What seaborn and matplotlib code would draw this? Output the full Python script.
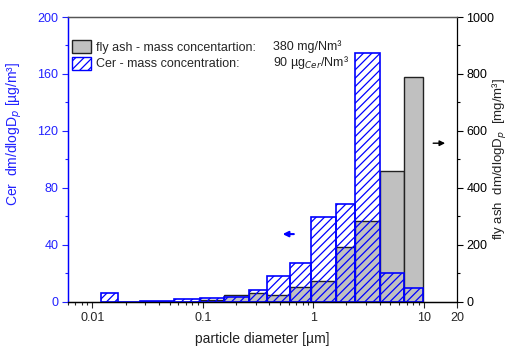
import numpy as np
import pandas as pd
import matplotlib
matplotlib.use("Agg")
import matplotlib.pyplot as plt
import seaborn as sns
from matplotlib.patches import Patch
from matplotlib.ticker import MultipleLocator, LogLocator, FixedLocator, NullFormatter

# impactor stage boundaries [um]
bin_edges = [0.012, 0.0169, 0.0272, 0.0551, 0.0933, 0.156, 0.262, 0.383,
             0.615, 0.946, 1.60, 2.39, 4.00, 6.68, 9.84]
# Cer dm/dlogDp [ug/m3]
cer_values = [6.5, 0.0, 0.4, 2.1, 2.8, 3.3, 8.4, 18.2, 27.1, 59.4, 68.6, 175.0, 20.1, 10.0]
# fly ash dm/dlogDp [mg/m3]
ash_values = [0.0, 0.0, 0.0, 1.0, 7.0, 25.0, 31.0, 24.0, 52.0, 73.0, 192.0, 285.0, 460.0, 788.0]

x_ticks = [0.01, 0.1, 1, 10, 20]
x_tick_labels = ["0.01", "0.1", "1", "10", "20"]

BLUE = "#0000ff"
LBLUE = "#2222ff"

sns.set_theme(style="ticks")
plt.rcParams['font.family'] = ['Liberation Sans', 'DejaVu Sans']
plt.rcParams['hatch.linewidth'] = 0.9

centers = np.sqrt(np.array(bin_edges[:-1]) * np.array(bin_edges[1:]))
log_edges = [float(v) for v in np.log10(bin_edges)]
df = pd.DataFrame({"d": centers, "cer": cer_values, "ash": ash_values})

fig = plt.figure(figsize=(5.11, 3.47), dpi=100)
ax = fig.add_axes([0.133, 0.130, 0.761, 0.821])
ax2 = ax.twinx()

# fly ash bars behind (right axis), Cer hatched bars on top (left axis)
ax2.set_zorder(ax.get_zorder() - 1)
ax.patch.set_visible(False)
ax2.patch.set_visible(True)
ax2.patch.set_facecolor("white")

sns.histplot(data=df, x="d", weights="ash", bins=log_edges, log_scale=True,
             stat="count", element="bars", fill=True, color="#c0c0c0", alpha=1,
             edgecolor="#222222", linewidth=1.0, ax=ax2)
sns.histplot(data=df, x="d", weights="cer", bins=log_edges, log_scale=True,
             stat="count", element="bars", fill=False, color=BLUE,
             hatch="////", linewidth=1.2, ax=ax)

ax.set_xscale("log")
ax.set_xlim(0.006, 20)
ax.set_ylim(0, 200)
ax2.set_ylim(0, 1000)

ax.xaxis.set_major_locator(FixedLocator(x_ticks))
ax.set_xticklabels(x_tick_labels)
ax.xaxis.set_minor_locator(LogLocator(base=10, subs=np.arange(2, 10)))
ax.xaxis.set_minor_formatter(NullFormatter())

ax.yaxis.set_major_locator(MultipleLocator(40))
ax.yaxis.set_minor_locator(MultipleLocator(20))
ax2.yaxis.set_major_locator(MultipleLocator(200))
ax2.yaxis.set_minor_locator(MultipleLocator(100))

for a in (ax, ax2):
    a.tick_params(which="major", direction="out", length=4, width=0.8, labelsize=9, pad=3)
    a.tick_params(which="minor", direction="out", length=2, width=0.8)
    a.set_xlabel("")

ax.tick_params(axis="y", which="both", colors=LBLUE, labelcolor=LBLUE)
ax2.tick_params(axis="y", which="both", colors="black")

ax.spines["left"].set_color(BLUE)
ax2.spines["left"].set_color(BLUE)
ax2.spines["right"].set_color("black")
ax.spines["right"].set_visible(False)
ax.spines["top"].set_color("#555555")
ax2.spines["top"].set_color("#555555")
for a in (ax, ax2):
    a.spines["bottom"].set_color("black")
    for s in a.spines.values():
        s.set_linewidth(0.9)

ax.set_xlabel("particle diameter [µm]", fontsize=10, color="#222222", labelpad=6)
ax.set_ylabel("Cer  dm/dlogD$_p$ [µg/m³]", fontsize=10, color=LBLUE)
ax.yaxis.set_label_coords(-0.112, 0.59)
ax2.set_ylabel("fly ash  dm/dlogD$_p$  [mg/m³]", fontsize=9.5, color="#222222")
ax2.yaxis.set_label_coords(1.088, 0.5)

handles = [Patch(facecolor="#c0c0c0", edgecolor="#222222", linewidth=1.0),
           Patch(facecolor="white", edgecolor=BLUE, hatch="////", linewidth=1.0)]
labels = ["fly ash - mass concentartion:", "Cer - mass concentration:"]
leg = ax.legend(handles, labels, loc="upper left", bbox_to_anchor=(-0.012, 0.95),
                frameon=False, fontsize=9, handlelength=1.5, handleheight=1.2,
                handletextpad=0.4, labelspacing=0.25, borderaxespad=0.3)
leg.set_zorder(10)
ax.text(0.527, 0.884, "380 mg/Nm³", transform=ax.transAxes, fontsize=9,
        va="baseline", color="#222222")
ax.text(0.527, 0.828, "90 µg$_{Cer}$/Nm³", transform=ax.transAxes, fontsize=9,
        va="baseline", color="#222222")

# axis indicator arrows
ax.annotate("", xy=(0.545, 0.238), xytext=(0.588, 0.238), xycoords="axes fraction",
            arrowprops=dict(arrowstyle="-|>", color=BLUE, lw=1.5, mutation_scale=8))
ax.annotate("", xy=(0.977, 0.557), xytext=(0.932, 0.557), xycoords="axes fraction",
            arrowprops=dict(arrowstyle="-|>", color="black", lw=1.0, mutation_scale=8))

fig.savefig("out.png", dpi=100)
